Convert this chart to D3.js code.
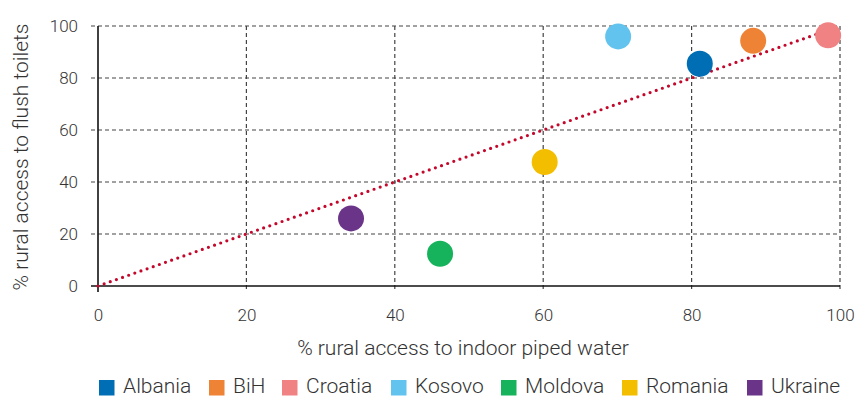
<!DOCTYPE html>
<html>
<head>
<meta charset="utf-8">
<script src="https://cdn.jsdelivr.net/npm/d3@7"></script>
<style>
  body { margin: 0; background: #fff; }
  text { font-family: Roboto, "Noto Sans", sans-serif; font-weight: 300; fill: #333; }
</style>
</head>
<body>
<div id="chart"></div>
<script>
const countries = ['Albania', 'BiH', 'Croatia', 'Kosovo', 'Moldova', 'Romania', 'Ukraine'];
const pipedWater = [81.1, 88.3, 98.4, 70.1, 46.1, 60.2, 34.1];
const flushToilets = [85.5, 94.3, 96.4, 96.0, 12.4, 47.7, 26.0];
const colours = ['#006eb5', '#ee8336', '#f08283', '#62c3ef', '#17b35c', '#f4be00', '#6a3589'];
const ticks = [0, 20, 40, 60, 80, 100];

const w = 855;
const h = 399;

const svg = d3.select('#chart')
  .append('svg')
  .attr('width', w)
  .attr('height', h);

const x = d3.scaleLinear().domain([0, 100]).range([98, 840]);
const y = d3.scaleLinear().domain([0, 100]).range([286, 26]);

// gridlines
const grid = svg.append('g')
  .attr('stroke', '#444')
  .attr('stroke-width', 1.2)
  .attr('stroke-dasharray', '4 3');

grid.selectAll('.hgrid')
  .data(ticks.slice(1))
  .enter()
  .append('line')
  .attr('x1', x(0) - 7)
  .attr('x2', x(100))
  .attr('y1', (d) => y(d))
  .attr('y2', (d) => y(d));

grid.selectAll('.vgrid')
  .data(ticks.slice(1))
  .enter()
  .append('line')
  .attr('x1', (d) => x(d))
  .attr('x2', (d) => x(d))
  .attr('y1', y(100))
  .attr('y2', y(0) + 6);

// axes
const xAxis = d3.axisBottom(x).tickValues(ticks).tickSize(0).tickPadding(23);
const yAxis = d3.axisLeft(y).tickValues(ticks).tickSize(0).tickPadding(20);

const gx = svg.append('g')
  .attr('transform', `translate(0,${y(0)})`)
  .call(xAxis);
const gy = svg.append('g')
  .attr('transform', `translate(${x(0)},0)`)
  .call(yAxis);

[gx, gy].forEach((g) => {
  g.select('.domain').remove();
  g.selectAll('text')
    .attr('font-size', 17)
    .attr('font-family', 'Roboto, sans-serif')
    .attr('fill', '#333');
});

svg.append('line')
  .attr('x1', x(0) - 7).attr('x2', x(100))
  .attr('y1', y(0)).attr('y2', y(0))
  .attr('stroke', '#111').attr('stroke-width', 1.6);
svg.append('line')
  .attr('x1', x(0)).attr('x2', x(0))
  .attr('y1', y(100)).attr('y2', y(0) + 6)
  .attr('stroke', '#111').attr('stroke-width', 1.6);

// equality line
svg.append('line')
  .attr('x1', x(0)).attr('y1', y(0))
  .attr('x2', x(100)).attr('y2', y(100))
  .attr('stroke', '#c4082c')
  .attr('stroke-width', 3.2)
  .attr('stroke-linecap', 'round')
  .attr('stroke-dasharray', '0 6.5');

// points
svg.append('g')
  .selectAll('circle')
  .data(countries)
  .enter()
  .append('circle')
  .attr('cx', (d, i) => x(pipedWater[i]))
  .attr('cy', (d, i) => y(flushToilets[i]))
  .attr('r', 13)
  .attr('fill', (d, i) => colours[i]);

// axis titles
svg.append('text')
  .attr('x', 463)
  .attr('y', 355)
  .attr('text-anchor', 'middle')
  .attr('font-size', 21)
  .text('% rural access to indoor piped water');

svg.append('text')
  .attr('transform', `translate(28,157) rotate(-90)`)
  .attr('text-anchor', 'middle')
  .attr('font-size', 21)
  .text('% rural access to flush toilets');

// legend
const legendX = [99, 209, 282, 391, 501, 622, 747];
const legend = svg.append('g')
  .selectAll('g')
  .data(countries)
  .enter()
  .append('g')
  .attr('transform', (d, i) => `translate(${legendX[i]},380)`);

legend.append('rect')
  .attr('width', 15.5)
  .attr('height', 15.5)
  .attr('fill', (d, i) => colours[i]);

legend.append('text')
  .attr('x', 24)
  .attr('y', 13)
  .attr('font-size', 21)
  .text((d) => d);
</script>
</body>
</html>
